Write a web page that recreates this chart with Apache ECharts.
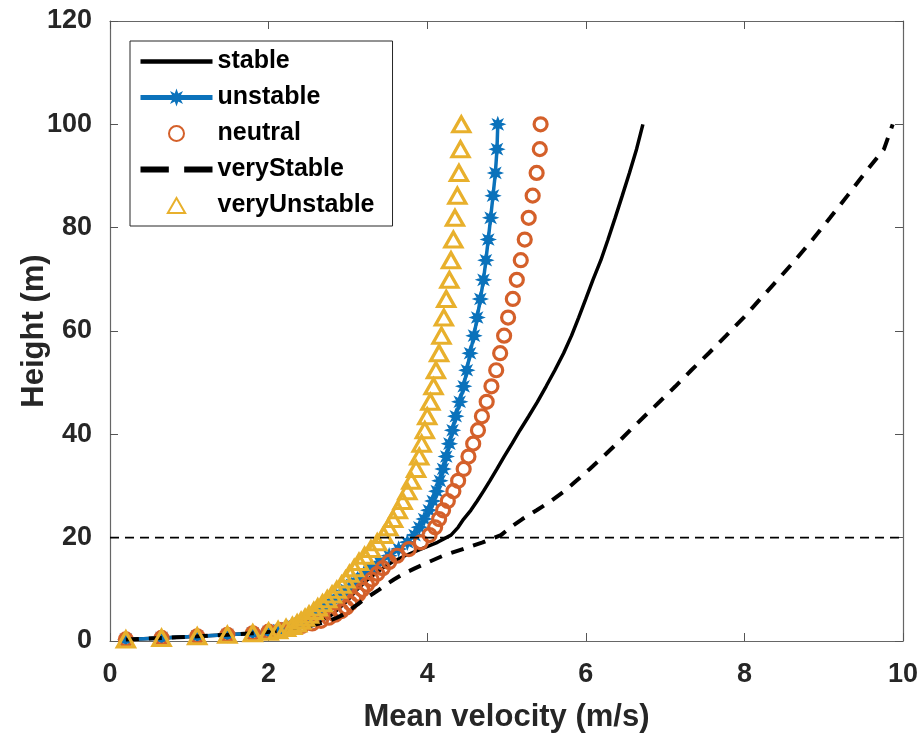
<!DOCTYPE html>
<html>
<head>
<meta charset="utf-8">
<script src="https://cdn.jsdelivr.net/npm/echarts@6/dist/echarts.min.js"></script>
<style>
html,body{margin:0;padding:0;background:#fff;}
#chart{width:922px;height:733px;}
</style>
</head>
<body>
<div id="chart"></div>
<script>
// Heights (m) shared by all profiles
const heights = [0.3, 0.6, 0.9, 1.2, 1.5, 1.8, 2.1, 2.5, 2.9, 3.4, 3.9, 4.5, 5.1, 5.8, 6.5, 7.3, 8.1, 9.0, 9.9, 10.9, 11.9, 13.0, 14.1, 15.3, 16.5, 17.8, 19.1, 20.5, 22.0, 23.6, 25.3, 27.1, 29.0, 31.0, 33.3, 35.7, 38.2, 40.8, 43.5, 46.3, 49.3, 52.4, 55.7, 59.1, 62.6, 66.2, 69.9, 73.7, 77.7, 81.9, 86.2, 90.6, 95.2, 100];
// Mean velocity (m/s) per stability class
const vStable = [0.2, 0.65, 1.1, 1.48, 1.8, 2.02, 2.18, 2.33, 2.45, 2.56, 2.65, 2.74, 2.8, 2.85, 2.9, 2.96, 3.01, 3.06, 3.11, 3.18, 3.25, 3.34, 3.44, 3.56, 3.72, 3.92, 4.13, 4.3, 4.39, 4.46, 4.55, 4.63, 4.71, 4.79, 4.88, 4.97, 5.07, 5.17, 5.28, 5.39, 5.5, 5.61, 5.72, 5.82, 5.91, 6.0, 6.09, 6.19, 6.28, 6.37, 6.46, 6.55, 6.64, 6.72];
const vUnstable = [0.2, 0.65, 1.1, 1.48, 1.8, 2.0, 2.13, 2.24, 2.33, 2.4, 2.46, 2.52, 2.58, 2.64, 2.7, 2.77, 2.84, 2.91, 2.98, 3.05, 3.12, 3.2, 3.29, 3.4, 3.52, 3.64, 3.75, 3.84, 3.9, 3.96, 4.02, 4.07, 4.12, 4.16, 4.2, 4.24, 4.28, 4.32, 4.36, 4.41, 4.46, 4.5, 4.54, 4.59, 4.63, 4.67, 4.71, 4.74, 4.77, 4.8, 4.83, 4.86, 4.88, 4.89];
const vNeutral = [0.2, 0.65, 1.1, 1.48, 1.8, 2.0, 2.15, 2.3, 2.42, 2.55, 2.66, 2.76, 2.84, 2.92, 2.98, 3.03, 3.08, 3.13, 3.18, 3.24, 3.3, 3.37, 3.44, 3.52, 3.62, 3.77, 3.92, 4.03, 4.1, 4.15, 4.2, 4.26, 4.33, 4.39, 4.46, 4.52, 4.58, 4.64, 4.69, 4.75, 4.81, 4.87, 4.92, 4.97, 5.02, 5.08, 5.13, 5.18, 5.23, 5.28, 5.33, 5.38, 5.42, 5.43];
const vVeryStable = [0.2, 0.65, 1.1, 1.48, 1.8, 2.02, 2.2, 2.38, 2.52, 2.65, 2.76, 2.86, 2.94, 3.01, 3.07, 3.14, 3.21, 3.3, 3.39, 3.48, 3.58, 3.7, 3.85, 4.02, 4.2, 4.45, 4.7, 4.93, 5.05, 5.2, 5.38, 5.56, 5.73, 5.88, 6.05, 6.22, 6.39, 6.56, 6.74, 6.93, 7.13, 7.33, 7.55, 7.77, 7.99, 8.2, 8.42, 8.64, 8.86, 9.08, 9.3, 9.52, 9.76, 9.87];
const vVeryUnstable = [0.2, 0.65, 1.1, 1.48, 1.8, 2.0, 2.12, 2.22, 2.3, 2.36, 2.41, 2.46, 2.51, 2.57, 2.62, 2.68, 2.74, 2.8, 2.86, 2.92, 2.97, 3.02, 3.08, 3.14, 3.21, 3.29, 3.37, 3.45, 3.51, 3.57, 3.63, 3.69, 3.75, 3.8, 3.86, 3.9, 3.93, 3.97, 4.0, 4.04, 4.08, 4.11, 4.15, 4.18, 4.21, 4.24, 4.28, 4.3, 4.33, 4.35, 4.38, 4.4, 4.42, 4.43];
// Reference height line (m) and axis ranges
const refHeight = 20;
const xRange = [0, 10];
const yRange = [0, 120];
const seriesNames = ['stable', 'unstable', 'neutral', 'veryStable', 'veryUnstable'];

const pair = v => v.map((x, i) => [x, heights[i]]);
const FONT = '"Liberation Sans", Arial, sans-serif';
const AX = '#262626';
const asterisk = 'path://M0,-10L2,-4.5L7.07,-7.07L4.5,-2L10,0L4.5,2L7.07,7.07L2,4.5L0,10L-2,4.5L-7.07,7.07L-4.5,2L-10,0L-4.5,-2L-7.07,-7.07L-2,-4.5Z';
const triPath = 'path://M0,-10L8.66,5L-8.66,5Z';

const chart = echarts.init(document.getElementById('chart'), null, {renderer: 'canvas'});
const tickCfg = {show: true, inside: true, length: 8, lineStyle: {color: '#555', width: 1}};
const lineCfg = {show: true, onZero: false, lineStyle: {color: '#666', width: 1.2}};
chart.setOption({
  animation: false,
  backgroundColor: '#fff',
  grid: {left: 110, right: 19, top: 21, bottom: 92, containLabel: false, outerBoundsMode: 'none'},
  legend: {
    orient: 'vertical', left: 130, top: 41,
    data: [
      {name: 'stable', icon: 'path://M0,0H72V4.5H0Z'},
      {name: 'unstable', lineStyle: {width: 5}},
      {name: 'neutral'},
      {name: 'veryStable', icon: 'path://M0,0H24V5H0ZM37,0H61V5H37Z'},
      {name: 'veryUnstable', icon: triPath}
    ],
    symbolKeepAspect: true,
    backgroundColor: '#fff',
    borderColor: '#262626', borderWidth: 1,
    padding: [8, 18, 8, 8],
    itemWidth: 72, itemHeight: 15, itemGap: 11,
    textStyle: {fontFamily: FONT, fontWeight: 'bold', fontSize: 25, color: '#000'}
  },
  xAxis: [
    {type: 'value', min: xRange[0], max: xRange[1], interval: 2, position: 'bottom',
     name: 'Mean velocity (m/s)', nameLocation: 'middle', nameGap: 61, nameMoveOverlap: false,
     nameTextStyle: {fontFamily: FONT, fontWeight: 'bold', fontSize: 31, color: AX},
     axisLine: lineCfg, axisTick: tickCfg, splitLine: {show: false},
     axisLabel: {fontFamily: FONT, fontWeight: 'bold', fontSize: 27, color: AX, margin: 20}},
    {type: 'value', min: xRange[0], max: xRange[1], interval: 2, position: 'top',
     axisLine: lineCfg, axisTick: tickCfg, splitLine: {show: false}, axisLabel: {show: false}}
  ],
  yAxis: [
    {type: 'value', min: yRange[0], max: yRange[1], interval: 20, position: 'left',
     name: 'Height (m)', nameLocation: 'middle', nameGap: 60, nameMoveOverlap: false,
     nameTextStyle: {fontFamily: FONT, fontWeight: 'bold', fontSize: 31, color: AX},
     axisLine: lineCfg, axisTick: tickCfg, splitLine: {show: false},
     axisLabel: {fontFamily: FONT, fontWeight: 'bold', fontSize: 27, color: AX, margin: 18}},
    {type: 'value', min: yRange[0], max: yRange[1], interval: 20, position: 'right',
     axisLine: lineCfg, axisTick: tickCfg, splitLine: {show: false}, axisLabel: {show: false}}
  ],
  series: [
    {name: 'stable', type: 'line', data: pair(vStable), showSymbol: false, symbol: 'none',
     lineStyle: {color: '#000', width: 3.5}, itemStyle: {color: '#000'}, z: 2},
    {name: 'unstable', type: 'line', data: pair(vUnstable), symbol: asterisk, symbolSize: 13, showAllSymbol: true,
     lineStyle: {color: '#0b72bb', width: 3.5}, itemStyle: {color: '#0b72bb', borderColor: '#0b72bb', borderWidth: 1.5}, z: 3},
    {name: 'neutral', type: 'scatter', data: pair(vNeutral), symbol: 'circle', symbolSize: 13,
     itemStyle: {color: 'rgba(255,255,255,0)', borderColor: '#d4602a', borderWidth: 3.2, opacity: 1}, z: 4},
    {name: 'veryStable', type: 'line', data: pair(vVeryStable), showSymbol: false, symbol: 'none',
     lineStyle: {color: '#000', width: 4, type: [13, 10]}, itemStyle: {color: '#000'}, z: 5},
    {name: 'veryUnstable', type: 'scatter', data: pair(vVeryUnstable), symbol: triPath, symbolSize: [17, 15],
     itemStyle: {color: 'rgba(255,255,255,0)', borderColor: '#e8b02c', borderWidth: 3.2, opacity: 1}, z: 6},
    {name: 'ref', type: 'line', data: [[xRange[0], refHeight], [xRange[1], refHeight]], symbol: 'none',
     lineStyle: {color: '#000', width: 1.6, type: [9, 6]}, silent: true, z: 7}
  ]
});
</script>
</body>
</html>
